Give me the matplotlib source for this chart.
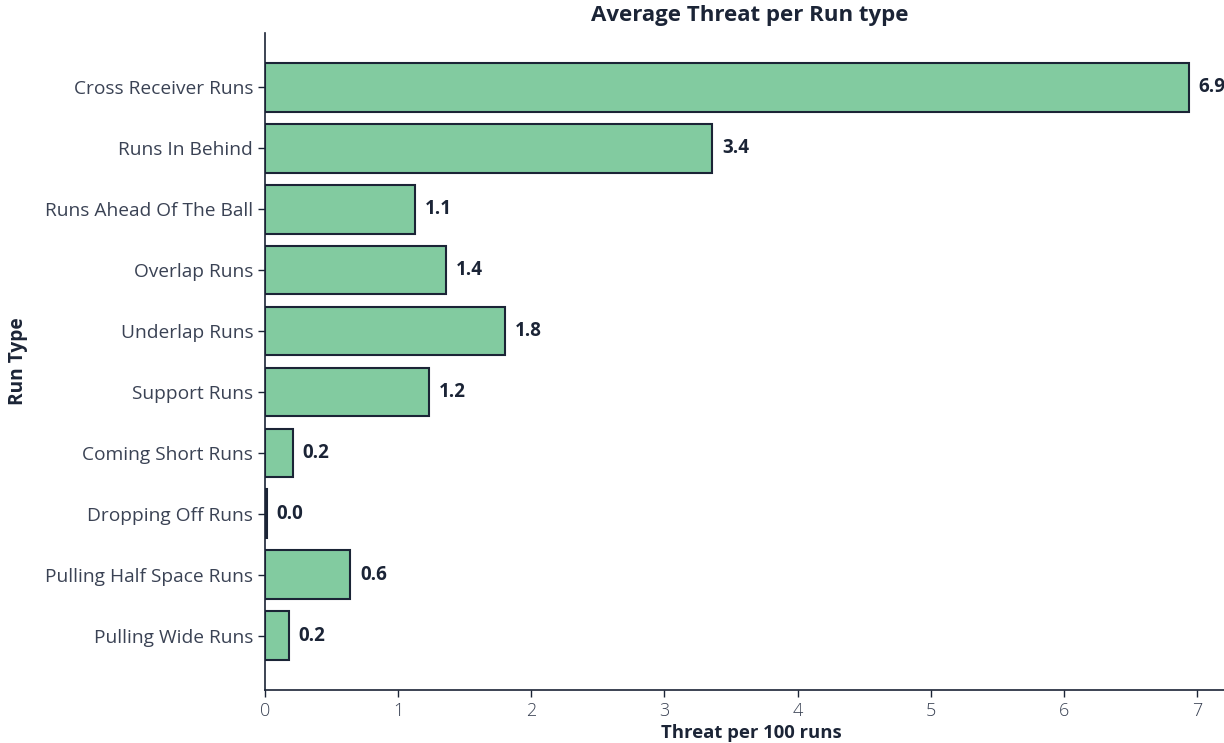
import matplotlib
matplotlib.use("Agg")
import matplotlib.pyplot as plt

categories = ["Cross Receiver Runs", "Runs In Behind", "Runs Ahead Of The Ball",
              "Overlap Runs", "Underlap Runs", "Support Runs", "Coming Short Runs",
              "Dropping Off Runs", "Pulling Half Space Runs", "Pulling Wide Runs"]
values = [6.94, 3.36, 1.13, 1.36, 1.80, 1.23, 0.21, 0.015, 0.64, 0.18]
xticks = [0, 1, 2, 3, 4, 5, 6, 7]

navy = "#1b2436"
green = "#82cba0"

plt.rcParams['font.family'] = ['Open Sans', 'DejaVu Sans']

fig = plt.figure(figsize=(12.24, 7.43), dpi=100)
ax = fig.add_axes([265/1224, 1-690/743, (1237-265)/1224, (690-33)/743])

y = list(range(len(categories)))
ax.barh(y, values, height=0.8, color=green, edgecolor=navy, linewidth=1.5)
ax.set_ylim(9.89, -0.89)
ax.set_xlim(0, 7.3)
ax.set_yticks(y)
ax.set_yticklabels(categories, fontsize=13.8, color="#3a4254")
ax.set_xticks(xticks)
ax.set_xticklabels([str(t) for t in xticks], fontsize=13, color="#3a4254", fontweight="light")
for v, yy in zip(values, y):
    ax.annotate(f"{v:.1f}", (v, yy), xytext=(7, 0), textcoords="offset points",
                va="center", ha="left", fontsize=13.5, fontweight="bold", color=navy)
for s in ["top", "right"]:
    ax.spines[s].set_visible(False)
for s in ["left", "bottom"]:
    ax.spines[s].set_color(navy)
    ax.spines[s].set_linewidth(1.2)
ax.tick_params(colors=navy, length=5, width=1)
for lab in ax.get_xticklabels() + ax.get_yticklabels():
    lab.set_color("#3a4254")
ax.set_xlabel("Threat per 100 runs", fontsize=13.3, fontweight="bold", color=navy, labelpad=3)
ax.set_ylabel("Run Type", fontsize=13.8, fontweight="bold", color=navy, labelpad=12)
fig.text(750/1224, 1-15/743, "Average Threat per Run type", ha="center", va="center",
         fontsize=16, fontweight="bold", color=navy)
fig.savefig("out.png", dpi=100)
